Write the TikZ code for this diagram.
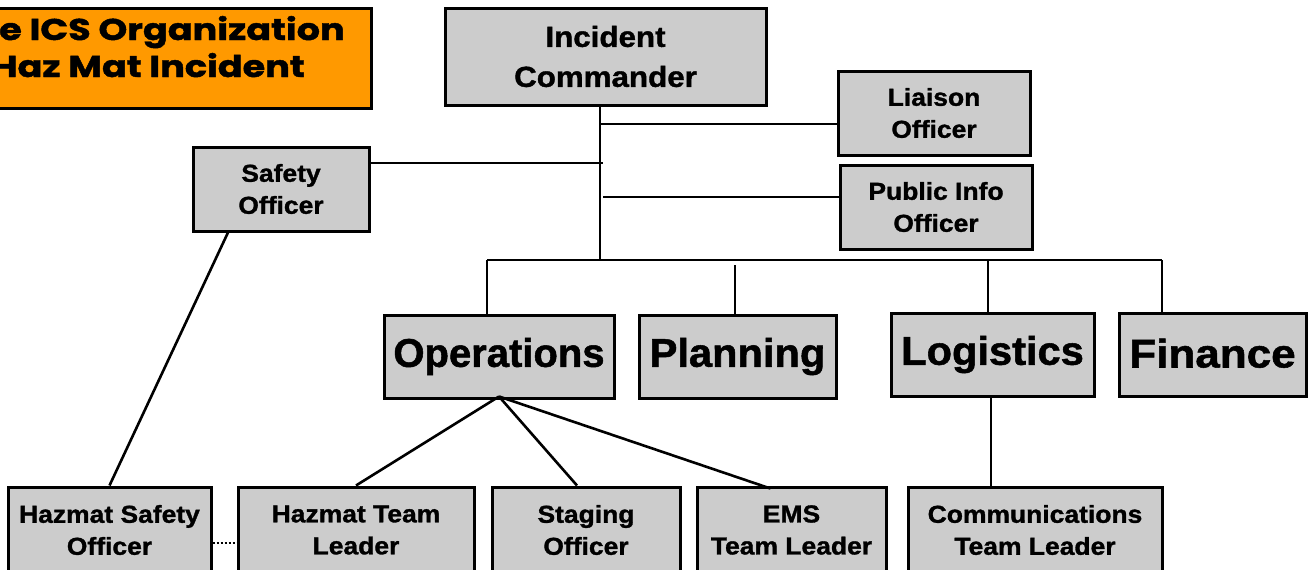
\documentclass[tikz,border=0pt]{standalone}
\usepackage{fontspec}
\usepackage{graphicx}
\setmainfont{Liberation Sans}
\newfontfamily\boxfont{Liberation Sans Bold}[FakeStretch=1.08, FakeBold=1.3]
\newfontfamily\bigfont{Liberation Sans Bold}[FakeBold=1.3]
\newfontfamily\titlefont{Poppins Bold}[FakeStretch=1.22, FakeBold=1.5]
\newcommand{\hsc}[2]{\scalebox{#1}[1]{#2}}
\definecolor{boxgray}{HTML}{CCCCCC}
\definecolor{titleorange}{HTML}{FF9900}
\begin{document}
\begin{tikzpicture}[x=1pt,y=-1pt,
  box/.style={draw=black, line width=3pt, fill=boxgray, inner sep=0pt, align=center, font=\boxfont\fontsize{24.5}{32}\selectfont},
  bigbox/.style={box, font=\bigfont\fontsize{40}{44}\selectfont},
  conn/.style={draw=black, line width=2.6pt},
  titletext/.style={inner sep=0pt, font=\titlefont\fontsize{30}{33}\selectfont}
]
\useasboundingbox (0,0) rectangle (1314,570);
\clip (0,0) rectangle (1314,570);
% title
\node[draw=black, line width=3pt, fill=titleorange, minimum width=392pt, minimum height=100pt] (title) at (175,58) {};
\node[titletext, anchor=base east] (t1) at (345,40) {The ICS Organization};
\node[titletext, anchor=base east] (t2) at (305,77) {for a Haz Mat Incident};
% top level
\node[box, font=\boxfont\fontsize{29}{40}\selectfont, minimum width=321pt, minimum height=97pt] (ic) at (605.5,56.5) {Incident\\Commander};
\node[box, minimum width=192pt, minimum height=84pt] (lia) at (934,113) {Liaison\\Officer};
\node[box, minimum width=192pt, minimum height=84pt] (pio) at (936,207) {Public Info\\Officer};
\node[box, minimum width=176pt, minimum height=84pt] (saf) at (281,189) {Safety\\Officer};
% sections
\node[bigbox, minimum width=230pt, minimum height=83pt] (ops) at (499,356.5) {Operations};
\node[bigbox, minimum width=197pt, minimum height=83pt] (pla) at (737.5,356.5) {\hsc{1.04}{Planning}};
\node[bigbox, minimum width=203pt, minimum height=83pt] (log) at (992.5,354.5) {\hsc{1.04}{Logistics}};
\node[bigbox, minimum width=187pt, minimum height=83pt] (fin) at (1212.5,354.5) {\raisebox{3pt}{\hsc{1.1}{Finance}}};
% bottom row
\node[box, minimum width=203pt, minimum height=86pt] (hso) at (109.5,530) {Hazmat Safety\\Officer};
\node[box, minimum width=236pt, minimum height=86pt] (htl) at (356,530) {Hazmat Team\\Leader};
\node[box, minimum width=188pt, minimum height=86pt] (sto) at (586,530) {Staging\\Officer};
\node[box, minimum width=189pt, minimum height=86pt] (ems) at (791.5,530) {EMS\\Team Leader};
\node[box, minimum width=254pt, minimum height=86pt] (com) at (1035,530) {Communications\\Team Leader};
% connectors
\coordinate (spine) at (600,260);
\coordinate (spine2) at (603,260);
\coordinate (busL) at (487,260);
\coordinate (busR) at (1162,260);
\coordinate (plaTop) at (735,265);
\coordinate (logTop) at (988,260);
\draw[conn] (ic.south -| spine) -- (spine);
\draw[conn] ([yshift=-11pt]lia.west) -- ([yshift=-11pt]lia.west -| spine);
\draw[conn] ([yshift=26pt]saf.east) -- ([yshift=26pt]saf.east -| spine2);
\draw[conn] ([yshift=10pt]pio.west) -- ([yshift=10pt]pio.west -| spine2);
\draw[conn] (busL) -- (busR);
\draw[conn] (busL) -- (busL |- ops.north);
\draw[conn] (plaTop) -- (plaTop |- pla.north);
\draw[conn] (logTop) -- (logTop |- log.north);
\draw[conn] (busR) -- (busR |- fin.north);
\draw[conn] ([yshift=3pt]ops.south) -- (htl.north);
\draw[conn] ([yshift=3pt]ops.south) -- ([xshift=-9pt]sto.north);
\draw[conn] ([yshift=3pt]ops.south) -- ([xshift=-21pt,yshift=-3pt]ems.north);
\draw[conn] ([xshift=-53pt]saf.south) -- (hso.north);
\draw[conn] ([xshift=-1.5pt]log.south) -- ([xshift=-1.5pt]log.south |- com.north);
\draw[conn, line width=2pt, dotted] ([yshift=-13pt]hso.east) -- ([yshift=-13pt]htl.west);
\end{tikzpicture}
\end{document}
